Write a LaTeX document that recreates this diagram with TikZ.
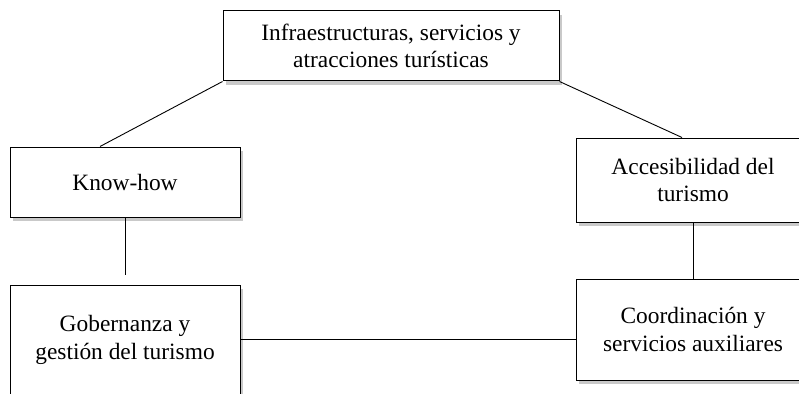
\documentclass[tikz,border=0pt]{standalone}
\usepackage{fontspec}
\setmainfont{Liberation Serif}
\usetikzlibrary{shadows}
\begin{document}
\begin{tikzpicture}[x=1pt,y=-1pt,
  box/.style={draw=black, line width=1pt, fill=white, align=center, inner sep=0pt,
    font=\fontsize{23.4}{27.5}\selectfont,
    drop shadow={shadow xshift=3pt, shadow yshift=-4pt, opacity=0.35, fill=black!60}},
  link/.style={draw=black, line width=0.9pt}]
\useasboundingbox (0,0) rectangle (799,393);
\clip (0,0) rectangle (799,393);
\fill[white] (0,0) rectangle (799,393);
\node[box, minimum width=336pt, minimum height=70pt] (top) at (391,46) {Infraestructuras, servicios y\\atracciones turísticas};
\node[box, minimum width=230pt, minimum height=70pt] (kh) at (125,182) {Know-how};
\node[box, minimum width=230pt, minimum height=110pt] (gob) at (125,340) {Gobernanza y\\gestión del turismo};
\node[box, minimum width=234pt, minimum height=84pt] (acc) at (693,180) {Accesibilidad del\\turismo};
\node[box, minimum width=234pt, minimum height=101pt] (coo) at (693,329.5) {Coordinación y\\servicios auxiliares};
\draw[link] (top.south west) -- ([xshift=-25pt]kh.north);
\draw[link] (top.south east) -- ([xshift=-11pt]acc.north);
\draw[link] (kh.south) -- ([yshift=10pt]gob.north);
\draw[link] (acc.south) -- (coo.north);
\draw[link] ([yshift=1pt]gob.east) -- ([yshift=1pt]gob.east -| coo.west);
\end{tikzpicture}
\end{document}
